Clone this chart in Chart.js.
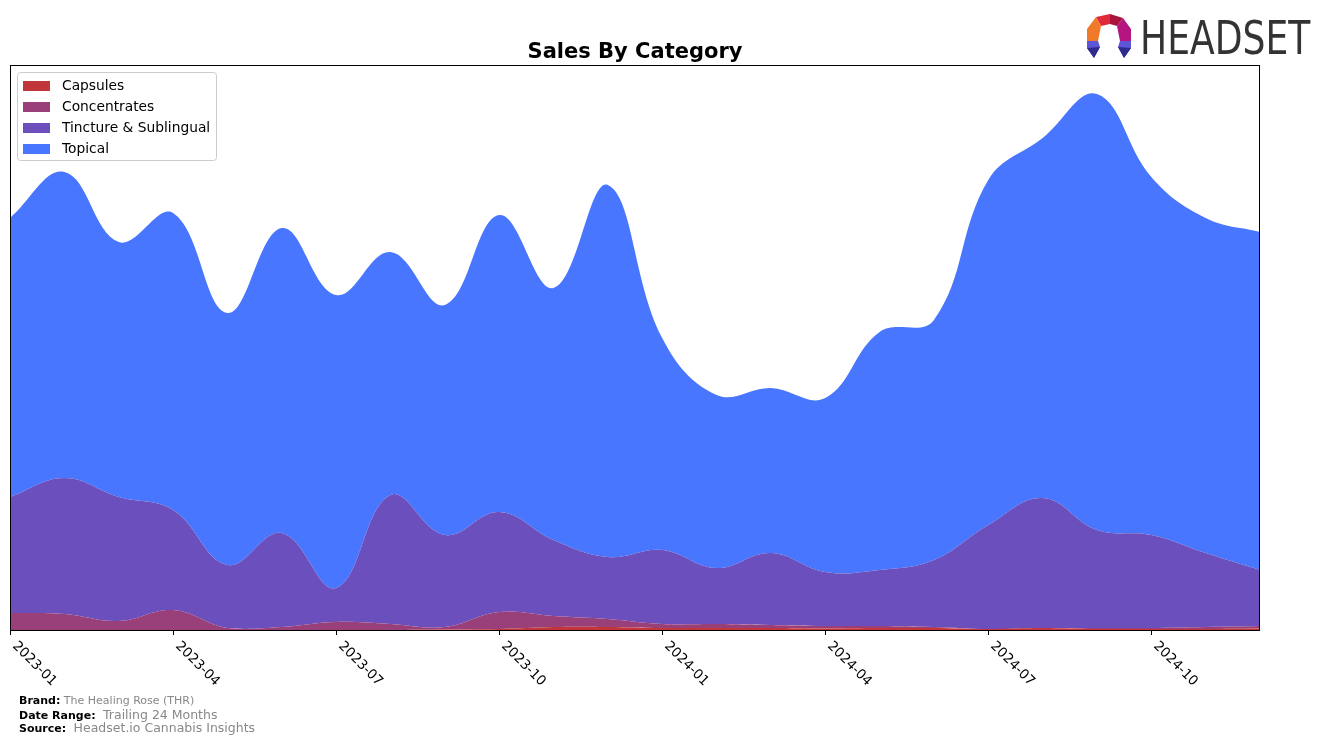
<!DOCTYPE html>
<html>
<head>
<meta charset="utf-8">
<script src="https://cdn.jsdelivr.net/npm/chart.js@4.4.1/dist/chart.umd.min.js"></script>
<style>
  html, body { margin:0; padding:0; background:#fff; }
  #wrap { position:relative; width:1324px; height:743px; overflow:hidden; font-family:"DejaVu Sans", sans-serif; }
  #c { position:absolute; left:0; top:0; }
  .foot { position:absolute; left:19px; font-size:11px; color:#000; white-space:nowrap; }
  .foot b { font-weight:bold; }
  .foot span { color:#888; }
  #logotext { position:absolute; left:1140px; top:12px; font-family:"DejaVu Sans", sans-serif; font-size:46px; color:#333; transform-origin:left top; transform:scaleX(0.785); line-height:52px; }
</style>
</head>
<body>
<div id="wrap">
  <canvas id="c" width="1324" height="743"></canvas>
  <svg id="logo" viewBox="0 0 46 46" style="position:absolute;left:1086px;top:14px;width:46px;height:46px;">
    <polygon points="10,3 24,0 24,10 15,12" fill="#e02a3a"/>
    <polygon points="24,0 37,4 31,12 24,10" fill="#a8143e"/>
    <polygon points="10,3 15,12 12,27 1,27 1,15" fill="#f07a2a"/>
    <polygon points="37,4 45,15 45,27 34,27 31,12" fill="#b5157e"/>
    <polygon points="1,27 12,27 14,33 8,44 1,34" fill="#5d55d8"/>
    <polygon points="1,34 8,44 14,33" fill="#2e2b8c"/>
    <polygon points="45,27 34,27 32,33 38,44 45,34" fill="#5d55d8"/>
    <polygon points="45,34 38,44 32,33" fill="#2e2b8c"/>
  </svg>
  <div id="logotext">HEADSET</div>
  <div class="foot" style="top:694px;"><b>Brand:</b> <span>The Healing Rose (THR)</span></div>
  <div class="foot" style="top:707px;"><b>Date Range:</b> <span style="font-size:12.5px;">&nbsp;Trailing 24 Months</span></div>
  <div class="foot" style="top:720px;"><b>Source:</b> <span style="font-size:12.5px;">&nbsp;Headset.io Cannabis Insights</span></div>
</div>
<script>
const months = ["2023-01","2023-02","2023-03","2023-04","2023-05","2023-06","2023-07","2023-08","2023-09","2023-10","2023-11","2023-12",
                "2024-01","2024-02","2024-03","2024-04","2024-05","2024-06","2024-07","2024-08","2024-09","2024-10","2024-11","2024-12"];
const tickLabels = ["2023-01","2023-04","2023-07","2023-10","2024-01","2024-04","2024-07","2024-10"];
const seriesNames = ["Capsules","Concentrates","Tincture & Sublingual","Topical"];
const capsules     = [0,0,0,0,0,0,0,0,0.5,1,3,3,2,2,2,1.5,2,2,1,2,1,1,1,1.5];
const concentrates = [17,16,9,20,2,3,8,6,2.5,17,11,8,4,4,3,2.5,2,1,0,0,1,1,2,2.5];
const tincture     = [116,136,124,100,63,94,34,129,92,100,76,62,74,56,72,54,56,67,104,130,98,93,74,56];
const topical      = [279,306,255,297,252,305,293,243,230,297,252,372,212,173,165,174,238,240,345,360,436,358,335,338];
const colors = ["#c1363b","#993f79","#6b4fbc","#4876fe"];

const dataArrays = [capsules, concentrates, tincture, topical];
const datasets = dataArrays.map((d, i) => ({
  label: seriesNames[i],
  data: d,
  backgroundColor: colors[i],
  borderColor: colors[i],
  borderWidth: 0,
  pointRadius: 0,
  tension: 0.4,
  fill: i === 0 ? 'origin' : '-1'
}));

const overlay = {
  id: 'overlay',
  afterDraw(chart) {
    const ctx = chart.ctx;
    const a = chart.chartArea;
    const xs = chart.scales.x;
    ctx.save();
    ctx.strokeStyle = '#000';
    ctx.lineWidth = 1;
    ctx.strokeRect(a.left + 0.5, a.top + 0.5, a.right - a.left - 1, a.bottom - a.top);
    ctx.font = '13.5px "DejaVu Sans"';
    ctx.fillStyle = '#000';
    tickLabels.forEach(t => {
      const idx = months.indexOf(t);
      const x = Math.round(xs.getPixelForValue(idx)) + 0.5;
      ctx.beginPath();
      ctx.moveTo(x, a.bottom);
      ctx.lineTo(x, a.bottom + 5);
      ctx.stroke();
      ctx.save();
      ctx.translate(x + 4, a.bottom + 14);
      ctx.rotate(Math.PI / 4);
      ctx.textAlign = 'left';
      ctx.textBaseline = 'middle';
      ctx.fillText(t, 0, 0);
      ctx.restore();
    });
    ctx.font = 'bold 21px "DejaVu Sans"';
    ctx.textAlign = 'center';
    ctx.textBaseline = 'alphabetic';
    ctx.fillText('Sales By Category', 635, 58);
    const lx = 17, ly = 72, lw = 199, lh = 88;
    ctx.fillStyle = 'rgba(255,255,255,0.8)';
    ctx.strokeStyle = '#ccc';
    ctx.beginPath();
    ctx.roundRect(lx + 0.5, ly + 0.5, lw, lh, 3);
    ctx.fill();
    ctx.stroke();
    ctx.font = '13.8px "DejaVu Sans"';
    ctx.textAlign = 'left';
    ctx.textBaseline = 'middle';
    seriesNames.forEach((n, i) => {
      const cy = 86 + i * 21;
      ctx.fillStyle = colors[i];
      ctx.fillRect(23, cy - 5, 27, 10);
      ctx.fillStyle = '#000';
      ctx.fillText(n, 62, cy);
    });
    ctx.restore();
  }
};

new Chart(document.getElementById('c'), {
  type: 'line',
  data: { labels: months, datasets },
  options: {
    responsive: false,
    animation: false,
    layout: { padding: { left: 10, top: 65, right: 64, bottom: 113 } },
    plugins: { legend: { display: false }, title: { display: false }, tooltip: { enabled: false } },
    scales: {
      x: { display: false, offset: false },
      y: { display: false, stacked: true, min: 0, max: 565 }
    },
    elements: { line: { borderWidth: 0 } }
  },
  plugins: [overlay]
});
</script>
</body>
</html>
